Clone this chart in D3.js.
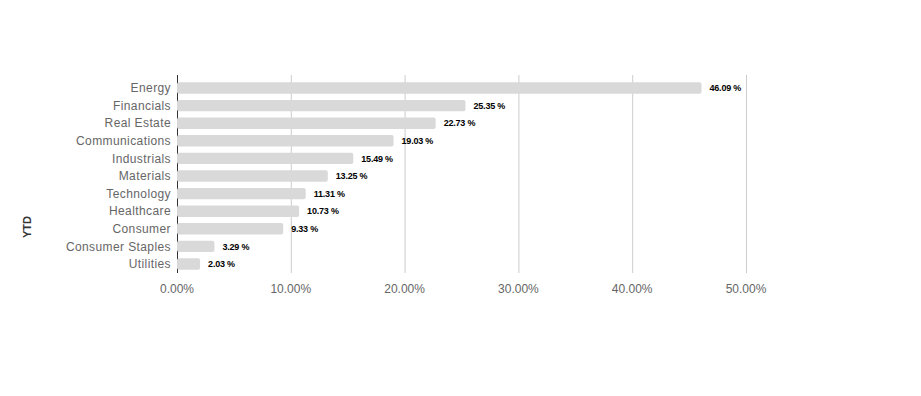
<!DOCTYPE html>
<html><head><meta charset="utf-8">
<script src="https://cdn.jsdelivr.net/npm/d3@7"></script>
<style>body{margin:0;background:#fff}svg{display:block}text{font-family:"Liberation Sans",Arial,sans-serif}</style>
</head><body><svg id="c" width="921" height="396"></svg>
<script>
const categories = ["Energy","Financials","Real Estate","Communications","Industrials","Materials","Technology","Healthcare","Consumer","Consumer Staples","Utilities"];
const values = [46.09,25.35,22.73,19.03,15.49,13.25,11.31,10.73,9.33,3.29,2.03];
const ticks = [0,10,20,30,40,50];
const tickLabels = ["0.00%","10.00%","20.00%","30.00%","40.00%","50.00%"];
const axisTitle = "YTD";

const svg = d3.select("#c");
const x = d3.scaleLinear().domain([0,50]).range([177,746]);
const y = d3.scaleBand().domain(categories).range([79.2,272.8]).paddingInner(0.35).paddingOuter(0.175);

// gridlines
svg.append("g").selectAll("line").data(ticks.slice(1)).join("line")
  .attr("x1",d=>x(d)+0.5).attr("x2",d=>x(d)+0.5).attr("y1",75).attr("y2",273)
  .attr("stroke","#ccc").attr("stroke-width",1);

// baseline axis
svg.append("line").attr("x1",177.5).attr("x2",177.5).attr("y1",75).attr("y2",273)
  .attr("stroke","#333").attr("stroke-width",1);

// bars
svg.append("g").selectAll("rect").data(values).join("rect")
  .attr("x",x(0)).attr("y",(d,i)=>y(categories[i]))
  .attr("width",d=>x(d)-x(0)).attr("height",y.bandwidth())
  .attr("rx",2).attr("fill","#d9d9d9");

// value labels
svg.append("g").selectAll("text").data(values).join("text")
  .attr("x",d=>x(d)+8).attr("y",(d,i)=>y(categories[i])+y.bandwidth()/2)
  .attr("dy","0.35em").attr("font-size",9).attr("font-weight","bold").attr("fill","#000")
  .attr("letter-spacing","-0.2")
  .text(d=>d.toFixed(2)+" %");

// category labels
svg.append("g").selectAll("text").data(categories).join("text")
  .attr("x",171).attr("y",d=>y(d)+y.bandwidth()/2).attr("dy","0.35em")
  .attr("text-anchor","end").attr("font-size",12).attr("letter-spacing","0.4")
  .attr("fill","#666").text(d=>d);

// tick labels
svg.append("g").selectAll("text").data(ticks).join("text")
  .attr("x",d=>x(d)).attr("y",293).attr("text-anchor","middle")
  .attr("font-size",12).attr("fill","#666").text((d,i)=>tickLabels[i]);

// axis title
svg.append("text").attr("transform","translate(31,227) rotate(-90)")
  .attr("text-anchor","middle").attr("font-size",11).attr("font-weight","bold")
  .attr("fill","#333").text(axisTitle);
</script></body></html>
